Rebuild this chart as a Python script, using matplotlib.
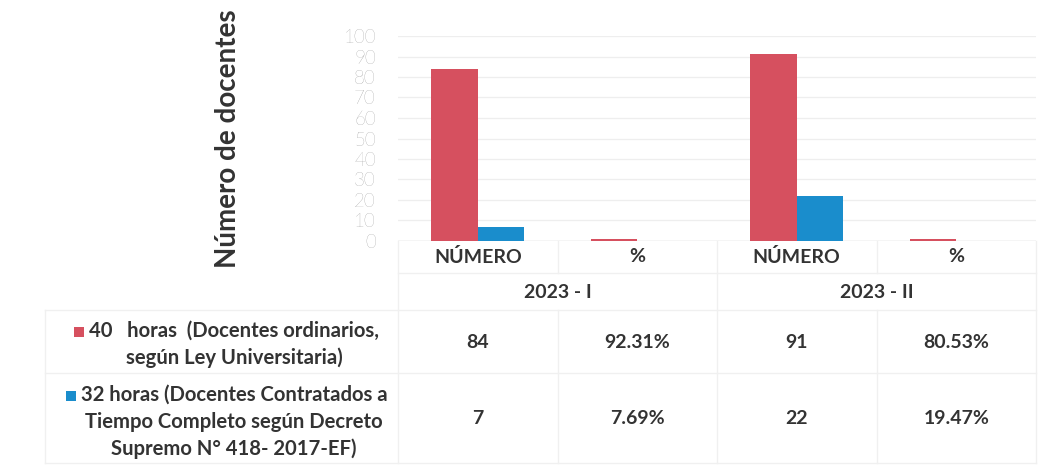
import matplotlib
matplotlib.use("Agg")
import matplotlib.pyplot as plt
from matplotlib.transforms import blended_transform_factory
from matplotlib.patches import Rectangle

# ---------------- data ----------------
categories = ["NÚMERO", "%", "NÚMERO", "%"]
periods = ["2023 - I", "2023 - II"]
is_percent = [False, True, False, True]
values_40 = [84, 92.31, 91, 80.53]
values_32 = [7, 7.69, 22, 19.47]
series_lines_40 = ["40   horas  (Docentes ordinarios,", "según Ley Universitaria)"]
series_lines_32 = ["32 horas (Docentes Contratados a", "Tiempo Completo según Decreto",
                   "Supremo N° 418- 2017-EF)"]
y_ticks = list(range(0, 101, 10))
y_label = "Número de docentes"

# ---------------- style ----------------
RED = "#d6505f"
BLUE = "#1a8dcc"
TXT = "#333333"
GRID = "#eeeeee"
LINE = "#f0f0f0"
FONT = "Lato"

W, H = 1054, 468
fig = plt.figure(figsize=(W / 100, H / 100), dpi=100)
fig.patch.set_facecolor("white")


def fy(y):
    return 1 - y / H


def fx(x):
    return x / W


ax = fig.add_axes([fx(398), fy(241), fx(1036) - fx(398), fy(36) - fy(241)])
x = list(range(len(categories)))
bw = 0.29
plot40 = [v / 100 if p else v for v, p in zip(values_40, is_percent)]
plot32 = [v / 100 if p else v for v, p in zip(values_32, is_percent)]
ax.bar([i - bw / 2 for i in x], plot40, width=bw, color=RED, zorder=3)
ax.bar([i + bw / 2 for i in x], plot32, width=bw, color=BLUE, zorder=3)
ax.set_xlim(-0.5, 3.5)
ax.set_ylim(0, 100)
ax.set_yticks(y_ticks)
ax.set_yticklabels([str(t) for t in y_ticks], fontsize=13.5, color="#7a7a7a",
                   family=FONT, fontweight="light")
ax.tick_params(axis="y", length=0, pad=16)
ax.set_xticks([])
ax.grid(axis="y", color=GRID, lw=0.9, zorder=0)
for s in ax.spines.values():
    s.set_visible(False)
ax.axhline(0, color="#dddddd", lw=1, zorder=2)

fig.text(fx(228), fy(139), y_label, rotation=90, ha="center", va="center",
         fontsize=20, fontweight="bold", color=TXT, family=FONT)

# ---------------- data table ----------------
bt = blended_transform_factory(ax.transData, fig.transFigure)
for i, c in enumerate(categories):
    fig.text(i, fy(257), c, transform=bt, ha="center", va="center",
             fontsize=14, fontweight="bold", color=TXT, family=FONT)
for k, p in enumerate(periods):
    fig.text(2 * k + 0.5, fy(292), p, transform=bt, ha="center", va="center",
             fontsize=14, fontweight="bold", color=TXT, family=FONT)


def fmt(v, p):
    return f"{v:.2f}%" if p else f"{v:g}"


for i in x:
    fig.text(i, fy(342), fmt(values_40[i], is_percent[i]), transform=bt,
             ha="center", va="center", fontsize=14, fontweight="bold",
             color=TXT, family=FONT)
    fig.text(i, fy(418), fmt(values_32[i], is_percent[i]), transform=bt,
             ha="center", va="center", fontsize=14, fontweight="bold",
             color=TXT, family=FONT)

# legend rows (series names)
line_step = 27
first_lines = []
for lines, y0 in ((series_lines_40, 331), (series_lines_32, 395)):
    for j, ln in enumerate(lines):
        t = fig.text(fx(234), fy(y0 + j * line_step), ln, ha="center", va="center",
                     fontsize=14.6, fontweight="bold", color=TXT, family=FONT)
        if j == 0:
            first_lines.append(t)

fig.canvas.draw()
r = fig.canvas.get_renderer()
for t, col in zip(first_lines, (RED, BLUE)):
    bb = t.get_window_extent(r)
    xc = bb.x0 - 10
    yc = (bb.y0 + bb.y1) / 2 - 1
    fig.patches.append(Rectangle(((xc - 5) / W, (yc - 5) / H), 10 / W, 10 / H,
                                 transform=fig.transFigure, facecolor=col,
                                 edgecolor="none"))

# table grid lines (faint)
def hline(y, x0, x1):
    fig.add_artist(plt.Line2D([fx(x0), fx(x1)], [fy(y), fy(y)], color=LINE, lw=1,
                              transform=fig.transFigure))


for yy in (310, 373, 463):
    hline(yy, 45, 1036)
hline(273, 398, 1036)
bx = blended_transform_factory(ax.transData, fig.transFigure)
for b in (-0.5, 1.5, 3.5):
    fig.add_artist(plt.Line2D([b, b], [fy(241), fy(463)], color=LINE, lw=1, transform=bx))
for b in (0.5, 2.5):
    fig.add_artist(plt.Line2D([b, b], [fy(241), fy(273)], color=LINE, lw=1, transform=bx))
    fig.add_artist(plt.Line2D([b, b], [fy(310), fy(463)], color=LINE, lw=1, transform=bx))
fig.add_artist(plt.Line2D([fx(45), fx(45)], [fy(310), fy(463)], color=LINE, lw=1,
                          transform=fig.transFigure))

fig.savefig("out.png", dpi=100, facecolor="white")
